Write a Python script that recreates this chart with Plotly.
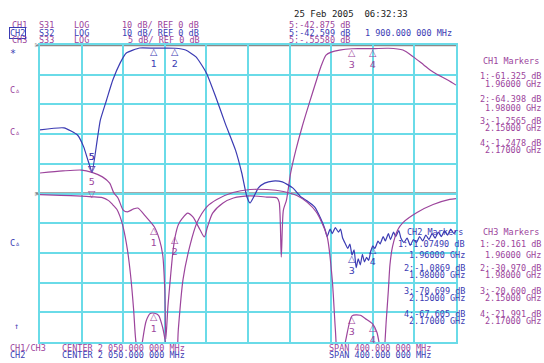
import plotly.graph_objects as go

# ---------------- data ----------------
# CH2  S32 (blue, 10 dB/div, ref 0 dB at top)
s32_f = [1850, 1873, 1886, 1892, 1896, 1900, 1905, 1908, 1914, 1920, 1927, 1933, 1946, 1960, 1980,
         1990, 2000, 2010, 2019, 2028, 2038, 2044, 2049, 2052, 2056, 2060, 2066, 2074, 2083, 2093,
         2101, 2107, 2114, 2120, 2124, 2126, 2129, 2131, 2134, 2137, 2139, 2141, 2143, 2146, 2148,
         2150, 2152, 2154, 2156, 2158, 2160, 2162, 2164, 2166, 2168, 2170, 2172, 2175, 2177, 2180,
         2182, 2185, 2187, 2190, 2192, 2195, 2197, 2200, 2203, 2206, 2209, 2212, 2215, 2218, 2221,
         2224, 2227, 2230, 2233, 2236, 2239, 2242, 2245, 2248, 2250]
s32_db = [-28.6, -27.9, -30.3, -34.3, -38.7, -42.6, -32.0, -25.3, -18.5, -11.8, -6.1, -2.7, -1.0, -1.07, -1.09,
          -1.7, -4.0, -9.4, -17.5, -26.3, -35.4, -43.1, -51.2, -53.2, -50.8, -48.1, -46.5, -45.8, -46.1, -48.1,
          -51.2, -52.5, -54.5, -58.5, -62.0, -64.5, -62.0, -63.5, -61.5, -63.0, -62.0, -65.0, -66.5, -68.5, -67.0,
          -70.7, -69.0, -75.0, -72.0, -74.0, -70.5, -73.0, -71.5, -72.5, -69.5, -67.6, -68.5, -66.0, -67.0, -64.5,
          -66.0, -63.5, -65.5, -63.0, -64.5, -62.5, -65.0, -66.5, -65.0, -67.5, -65.5, -66.5, -64.5, -66.0, -64.0,
          -65.5, -63.5, -65.0, -63.0, -64.5, -62.5, -64.0, -62.0, -63.5, -62.5]

# CH1  S31 (purple, 10 dB/div, ref 0 dB at top)
s31_f = [1850, 1872, 1890, 1900, 1910, 1917, 1921, 1925, 1930, 1934, 1940, 1944, 1952, 1960, 1965,
         1968, 1970, 1971, 1973, 1975.5, 1978, 1980, 1983, 1987, 1992, 1997, 2004, 2008, 2011, 2016,
         2026, 2036, 2052, 2068, 2078, 2080, 2082, 2084, 2087, 2091, 2096, 2102, 2109, 2115, 2120,
         2125, 2130, 2138, 2150, 2170, 2185, 2199, 2209, 2219, 2228, 2242, 2250]
s31_db = [-43.1, -42.4, -42.1, -42.9, -44.4, -46.5, -49.8, -51.5, -55.6, -56.2, -55.2, -54.9, -57.9, -61.3, -65.7,
          -70.7, -82.5, -99.0, -88.0, -78.0, -69.0, -64.4, -60.5, -58.3, -56.6, -57.9, -62.3, -64.6, -61.3, -56.6,
          -53.2, -51.5, -50.8, -51.2, -51.5, -53.0, -71.4, -55.6, -52.2, -43.1, -35.4, -27.6, -19.5, -12.8, -7.4,
          -3.4, -2.4, -1.7, -1.26, -1.25, -1.1, -1.7, -4.0, -6.7, -9.1, -11.8, -13.5]

# CH3  S33 (purple, 5 dB/div, ref 0 dB at centre line)
s33_f = [1850, 1870, 1890, 1900, 1910, 1916, 1920, 1924, 1927, 1930, 1934, 1937, 1940, 1942, 1945,
         1948, 1952, 1956, 1960, 1964, 1968, 1971, 1975, 1980, 1983, 1987.5, 1994, 2001, 2010.6, 2020,
         2035.6, 2052, 2068, 2084, 2097, 2107, 2116, 2126, 2131, 2134, 2136.5, 2143, 2150, 2158, 2164,
         2170, 2174, 2177, 2180, 2183, 2185, 2186.5, 2189, 2194, 2199, 2212.5, 2228, 2244, 2250]
s33_db = [-0.2, -0.3, -0.45, -0.556, -0.7, -1.2, -1.9, -2.7, -3.9, -5.7, -9.4, -13.6, -19.5, -24.6, -28.0,
          -25.4, -21.5, -20.2, -20.16, -20.5, -22.6, -25.4, -30.0, -30.97, -22.9, -14.5, -8.9, -4.9, -2.2, -1.0,
          0.17, 0.67, 0.67, 0.34, -0.34, -1.5, -3.2, -7.2, -14.5, -22.9, -28.0, -25.4, -20.6, -20.5, -21.2,
          -21.99, -23.4, -26.0, -28.0, -21.2, -16.2, -12.0, -8.9, -6.1, -4.9, -3.2, -1.85, -1.0, -0.85]

# marker readouts
mk_f = [1960, 1980, 2150, 2170]
mk_lbl = ["1", "2", "3", "4"]
ch1_mk = [-61.325, -64.398, -1.2565, -1.2478]
ch2_mk = [-1.07490, -1.0869, -70.699, -67.605]
ch3_mk = [-20.161, -30.970, -20.600, -21.991]
mk5_f = 1900
ch1_mk5, ch2_mk5, ch3_mk5 = -42.875, -42.599, -0.55580

BLUE = "#3b3bb3"
PURP = "#9c449c"
CYAN = "#6adbe8"
GREY = "#8a8a8a"
FONT = "DejaVu Sans Mono"

L, R, T, B = 40, 88, 45, 21
W, H = 544, 363
PW, PH = W - L - R, H - T - B

def px(x):
    return (x - L) / PW

def py(y):
    return (H - B - y) / PH

fig = go.Figure()
fig.add_trace(go.Scatter(x=s31_f, y=s31_db, mode="lines", line=dict(color=PURP, width=1.2, shape="spline", smoothing=0.7), yaxis="y"))
fig.add_trace(go.Scatter(x=s33_f, y=s33_db, mode="lines", line=dict(color=PURP, width=1.2, shape="spline", smoothing=0.7), yaxis="y2"))
fig.add_trace(go.Scatter(x=s32_f, y=s32_db, mode="lines", line=dict(color=BLUE, width=1.2, shape="spline", smoothing=0.5), yaxis="y"))

fig.update_layout(
    width=W, height=H, margin=dict(l=L, r=R, t=T, b=B),
    paper_bgcolor="white", plot_bgcolor="white", showlegend=False,
    xaxis=dict(range=[1850, 2250], dtick=40, tick0=1850, showticklabels=False, ticks="",
               showgrid=True, gridcolor=CYAN, gridwidth=1.5, zeroline=False,
               showline=True, linecolor=CYAN, linewidth=1.5, mirror=True),
    yaxis=dict(range=[-100, 0], dtick=10, showticklabels=False, ticks="",
               showgrid=True, gridcolor=CYAN, gridwidth=1.5, zeroline=False,
               showline=True, linecolor=CYAN, linewidth=1.5, mirror=True),
    yaxis2=dict(range=[-25, 25], overlaying="y", visible=False, showgrid=False, zeroline=False),
)

# reference lines
fig.add_shape(type="line", xref="paper", yref="y", x0=-0.01, x1=1.0, y0=0, y1=0,
              line=dict(color=GREY, width=2.5), layer="between")
fig.add_shape(type="line", xref="paper", yref="y2", x0=-0.01, x1=1.0, y0=0, y1=0,
              line=dict(color=GREY, width=2.5), layer="between")

anns = []

def txt(t, x, y, color, size=8.5, xanchor="left", **kw):
    anns.append(dict(text=t, x=px(x), y=py(y), xref="paper", yref="paper", showarrow=False,
                     xanchor=xanchor, yanchor="middle", font=dict(family=FONT, size=size, color=color), **kw))

# header
txt("CH1", 10, 25, PURP); txt("S31", 37, 25, PURP); txt("LOG", 72, 25, PURP); txt("10 dB/ REF 0 dB", 120, 25, PURP)
txt("CH2", 9, 33, BLUE, bordercolor=BLUE, borderwidth=1, borderpad=0)
txt("S32", 37, 33, BLUE); txt("LOG", 72, 33, BLUE); txt("10 dB/ REF 0 dB", 120, 33, BLUE)
txt("CH3", 10, 40, PURP); txt("S33", 37, 40, PURP); txt("LOG", 72, 40, PURP); txt("5 dB/ REF 0 dB", 126, 40, PURP)
txt("25 Feb 2005  06:32:33", 292, 14, "#222222", size=9)
txt("5:-42.875 dB", 287, 25, PURP)
txt("5:-42.599 dB", 287, 33, BLUE)
txt("1 900.000 000 MHz", 363, 33, BLUE)
txt("5:-.55580 dB", 287, 40, PURP)

# marker tables
txt("CH1 Markers", 481, 61, PURP)
ch1_rows = [("1:-61.325 dB", "1.96000 GHz", 76, 84), ("2:-64.398 dB", "1.98000 GHz", 99, 108),
            ("3:-1.2565 dB", "2.15000 GHz", 121, 128), ("4:-1.2478 dB", "2.17000 GHz", 143, 150)]
for a, b, ya, yb in ch1_rows:
    txt(a, 543, ya, PURP, xanchor="right"); txt(b, 543, yb, PURP, xanchor="right")

txt("CH2 Markers", 405, 232, BLUE)
txt("CH3 Markers", 481, 232, PURP)
ch2_rows = [("1:-1.07490 dB", "1.96000 GHz", 244, 255), ("2:-1.0869 dB", "1.98000 GHz", 268, 275),
            ("3:-70.699 dB", "2.15000 GHz", 291, 298), ("4:-67.605 dB", "2.17000 GHz", 314, 321)]
ch3_rows = [("1:-20.161 dB", "1.96000 GHz"), ("2:-30.970 dB", "1.98000 GHz"),
            ("3:-20.600 dB", "2.15000 GHz"), ("4:-21.991 dB", "2.17000 GHz")]
for (a, b, ya, yb), (c, d) in zip(ch2_rows, ch3_rows):
    txt(a, 467, ya, BLUE, xanchor="right"); txt(b, 467, yb, BLUE, xanchor="right")
    txt(c, 543, ya, PURP, xanchor="right"); txt(d, 543, yb, PURP, xanchor="right")

# footer
txt("CH1/CH3", 8, 348, PURP); txt("CENTER 2 050.000 000 MHz", 60, 348, PURP)
txt("CH2", 8, 355, BLUE); txt("CENTER 2 050.000 000 MHz", 60, 355, BLUE)
txt("SPAN 400.000 000 MHz", 327, 348, PURP)
txt("SPAN 400.000 000 MHz", 327, 355, BLUE)

# left side symbols
txt("*", 8, 53, BLUE, size=10)
txt("C\u25b5", 8, 90, PURP)
txt("C\u25b5", 8, 132, PURP)
txt("C\u25b5", 8, 243, BLUE)
txt("\u2191", 12, 326, BLUE)
txt("\u25b7", 33, 45, GREY, size=7)
txt("\u25b7", 33, 194, GREY, size=7)

# trace markers
def tri_up(f, v, lbl, color, yref="y"):
    anns.append(dict(text="\u25b3<br>" + lbl, x=f, y=v, xref="x", yref=yref, showarrow=False,
                     xanchor="center", yanchor="top", yshift=4,
                     font=dict(family="DejaVu Sans", size=9.5, color=color)))

def tri_dn(f, v, lbl, color, yref="y"):
    anns.append(dict(text=lbl + "<br>\u25bd", x=f, y=v, xref="x", yref=yref, showarrow=False,
                     xanchor="center", yanchor="bottom", yshift=-4,
                     font=dict(family="DejaVu Sans", size=9.5, color=color)))

for f, lbl, v in zip(mk_f, mk_lbl, ch1_mk):
    tri_up(f, v, lbl, PURP, "y")
for f, lbl, v in zip(mk_f, mk_lbl, ch2_mk):
    tri_up(f, v, lbl, BLUE, "y")
for f, lbl, v in zip(mk_f, mk_lbl, ch3_mk):
    if v >= -25:
        tri_up(f, v, lbl, PURP, "y2")
tri_dn(mk5_f, ch1_mk5, "5", PURP, "y")
tri_dn(mk5_f, ch2_mk5, "5", BLUE, "y")
tri_dn(mk5_f, ch3_mk5, "5", PURP, "y2")

fig.update_layout(annotations=anns)
fig.write_html("out.html", config={"displayModeBar": False},
               post_script="document.body.style.margin='0px';")
